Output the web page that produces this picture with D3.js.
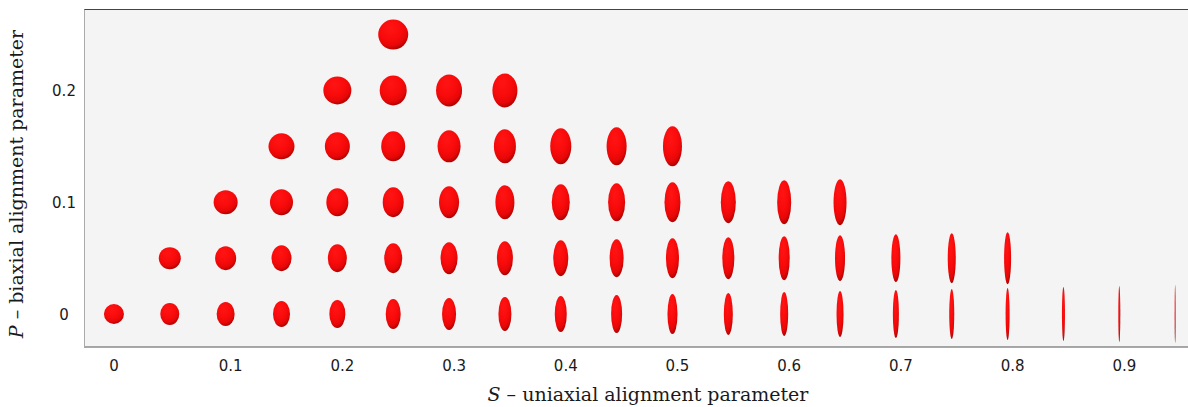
<!DOCTYPE html>
<html>
<head>
<meta charset="utf-8">
<script src="https://cdn.jsdelivr.net/npm/d3@7/dist/d3.min.js"></script>
<style>
  html, body { margin: 0; padding: 0; background: #ffffff; }
  svg { display: block; }
</style>
</head>
<body>
<svg id="chart" width="1188" height="407"></svg>
<script>
// Order-parameter states: for each biaxial level P, the uniaxial values S sampled.
const pLevels = [0, 0.05, 0.1, 0.15, 0.2, 0.25];
const sByLevel = [
  [0, 0.05, 0.1, 0.15, 0.2, 0.25, 0.3, 0.35, 0.4, 0.45, 0.5, 0.55, 0.6, 0.65, 0.7, 0.75, 0.8, 0.85, 0.9, 0.95],
  [0.05, 0.1, 0.15, 0.2, 0.25, 0.3, 0.35, 0.4, 0.45, 0.5, 0.55, 0.6, 0.65, 0.7, 0.75, 0.8],
  [0.1, 0.15, 0.2, 0.25, 0.3, 0.35, 0.4, 0.45, 0.5, 0.55, 0.6, 0.65],
  [0.15, 0.2, 0.25, 0.3, 0.35, 0.4, 0.45, 0.5],
  [0.2, 0.25, 0.3, 0.35],
  [0.25]
];
const xTicks = [0, 0.1, 0.2, 0.3, 0.4, 0.5, 0.6, 0.7, 0.8, 0.9];
const yTicks = [0, 0.1, 0.2];
const xTitleLabel = "uniaxial alignment parameter";
const yTitleLabel = "biaxial alignment parameter";

const points = pLevels.flatMap((p, i) => sByLevel[i].map(s => ({ s, p })));

const svg = d3.select("#chart");
const plot = { left: 84, right: 1188, top: 9.5, bottom: 347 };

const x = d3.scaleLinear().domain([-0.0268, 0.9615]).range([plot.left, plot.right]);
const y = d3.scaleLinear().domain([-0.0295, 0.2724]).range([plot.bottom, plot.top]);

// Glyph diameter per unit of principal axis length
const size = d3.scaleLinear().domain([0, 1]).range([0, 20]);
// Principal axes of the alignment ellipsoid seen side-on
const axisAcross = d => 1 - d.s + 3 * d.p;
const axisAlong = d => 1 + 2 * d.s;

const defs = svg.append("defs");
const grad = defs.append("radialGradient")
  .attr("id", "shade")
  .attr("cx", "42%").attr("cy", "32%").attr("r", "72%")
  .attr("fx", "40%").attr("fy", "28%");
[[0, "#ff1414"], [0.5, "#f90b0b"], [0.78, "#e60707"], [0.93, "#b80303"], [1, "#8e0202"]]
  .forEach(([o, c]) => grad.append("stop").attr("offset", o).attr("stop-color", c));

const clip = defs.append("clipPath").attr("id", "plotClip");
clip.append("rect")
  .attr("x", plot.left).attr("y", plot.top)
  .attr("width", plot.right - plot.left).attr("height", plot.bottom - plot.top);

// Plot background
svg.append("rect")
  .attr("x", plot.left).attr("y", plot.top)
  .attr("width", plot.right - plot.left).attr("height", plot.bottom - plot.top)
  .attr("fill", "#f4f4f4");

// Frame
svg.append("line")
  .attr("x1", plot.left).attr("x2", plot.right)
  .attr("y1", plot.top).attr("y2", plot.top)
  .attr("stroke", "#444").attr("stroke-width", 1.2);
svg.append("line")
  .attr("x1", plot.left).attr("x2", plot.right)
  .attr("y1", plot.bottom).attr("y2", plot.bottom)
  .attr("stroke", "#555").attr("stroke-width", 1.2);
svg.append("line")
  .attr("x1", plot.left + 0.5).attr("x2", plot.left + 0.5)
  .attr("y1", plot.top).attr("y2", plot.bottom)
  .attr("stroke", "#aaa").attr("stroke-width", 1);

// Ellipsoid glyphs
svg.append("g").attr("clip-path", "url(#plotClip)")
  .selectAll("ellipse")
  .data(points)
  .join("ellipse")
  .attr("cx", d => x(d.s))
  .attr("cy", d => y(d.p))
  .attr("rx", d => size(axisAcross(d)) / 2)
  .attr("ry", d => size(axisAlong(d)) / 2)
  .attr("fill", "url(#shade)");

// X axis tick labels
const xAxis = d3.axisBottom(x)
  .tickValues(xTicks)
  .tickSize(0)
  .tickPadding(0)
  .tickFormat(d => d === 0 ? "0" : d3.format(".1f")(d));
const gx = svg.append("g")
  .attr("transform", `translate(0,${plot.bottom})`)
  .call(xAxis);
gx.select(".domain").remove();
gx.selectAll("text")
  .attr("y", 0)
  .attr("dy", 0)
  .attr("transform", "translate(0,24)")
  .attr("dx", d => d === 0 ? -0.5 : 4.5)
  .attr("font-family", "DejaVu Sans, sans-serif")
  .attr("font-size", 15)
  .attr("fill", "#1a1a1a");

// Y axis tick labels
const yAxis = d3.axisLeft(y)
  .tickValues(yTicks)
  .tickSize(0)
  .tickPadding(0)
  .tickFormat(d => d === 0 ? "0" : d3.format(".1f")(d));
const gy = svg.append("g")
  .attr("transform", `translate(64,0)`)
  .call(yAxis);
gy.select(".domain").remove();
gy.selectAll("text")
  .attr("x", 0)
  .attr("dy", "0.35em")
  .attr("text-anchor", "middle")
  .attr("font-family", "DejaVu Sans, sans-serif")
  .attr("font-size", 15)
  .attr("fill", "#1a1a1a");

// Axis titles
const serif = "DejaVu Serif, Liberation Serif, serif";
const xTitle = svg.append("text")
  .attr("x", 648).attr("y", 401)
  .attr("text-anchor", "middle")
  .attr("font-family", serif)
  .attr("font-size", 19)
  .attr("fill", "#1a1a1a");
xTitle.append("tspan").attr("font-style", "italic").text("S");
xTitle.append("tspan").text(" \u2013 " + xTitleLabel);

const yTitle = svg.append("text")
  .attr("transform", "translate(23,184) rotate(-90)")
  .attr("text-anchor", "middle")
  .attr("font-family", serif)
  .attr("font-size", 19)
  .attr("fill", "#1a1a1a");
yTitle.append("tspan").attr("font-style", "italic").text("P");
yTitle.append("tspan").text(" \u2013 " + yTitleLabel);
</script>
</body>
</html>
